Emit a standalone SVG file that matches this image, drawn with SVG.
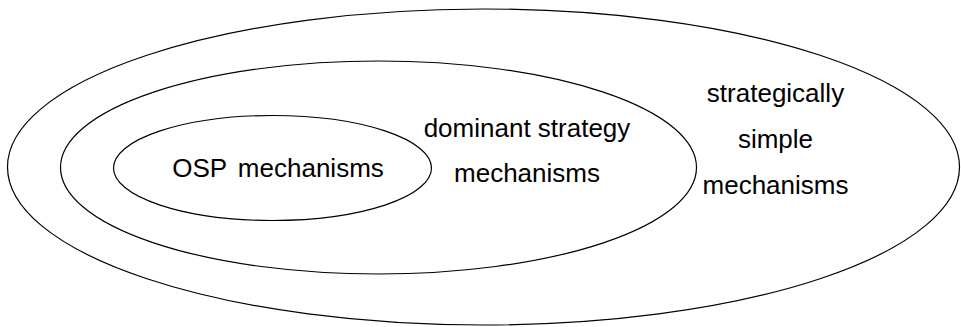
<svg xmlns="http://www.w3.org/2000/svg" width="961" height="327" viewBox="0 0 961 327">
<style>
.e{fill:none;stroke:#000;stroke-width:1.2}
.t{font-family:"Liberation Sans","DejaVu Sans",sans-serif;font-size:26px;fill:#000;text-anchor:middle}
</style>
<rect width="961" height="327" fill="#fff"/>
<g id="outer">
<ellipse class="e" cx="483.5" cy="167" rx="476" ry="158"/>
<text class="t" x="775.5" y="102">strategically</text>
<text class="t" x="775.5" y="148">simple</text>
<text class="t" x="775.5" y="194">mechanisms</text>
</g>
<g id="middle">
<ellipse class="e" cx="378.5" cy="167.5" rx="318" ry="106.5"/>
<text class="t" x="527" y="137">dominant strategy</text>
<text class="t" x="527" y="182">mechanisms</text>
</g>
<g id="inner">
<ellipse class="e" cx="272.5" cy="168" rx="159" ry="52.5"/>
<text class="t" x="278" y="177" word-spacing="4">OSP mechanisms</text>
</g>
<g id="connectors"/>
</svg>
